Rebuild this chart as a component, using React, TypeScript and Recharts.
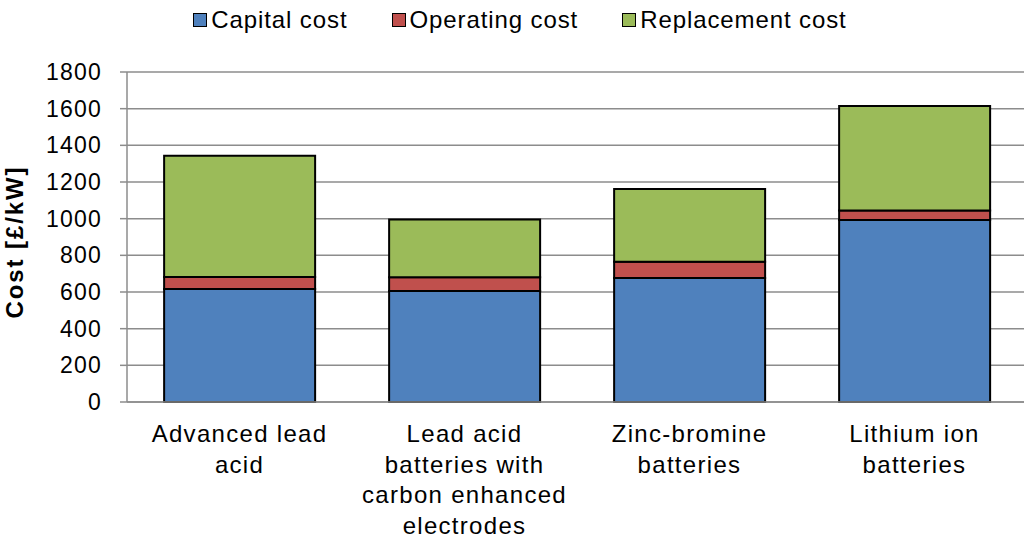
import { BarChart, Bar, XAxis, YAxis, CartesianGrid, Legend } from 'recharts';

const categories = [
  'Advanced lead acid',
  'Lead acid batteries with carbon enhanced electrodes',
  'Zinc-bromine batteries',
  'Lithium ion batteries',
];
const categoryLines = [
  ['Advanced lead', 'acid'],
  ['Lead acid', 'batteries with', 'carbon enhanced', 'electrodes'],
  ['Zinc-bromine', 'batteries'],
  ['Lithium ion', 'batteries'],
];
const capitalCost = [616, 605, 676, 993];
const operatingCost = [66, 75, 89, 51];
const replacementCost = [661, 316, 397, 571];
const yTicks = [0, 200, 400, 600, 800, 1000, 1200, 1400, 1600, 1800];
const categoryBounds = [0, 1, 2, 3, 4];

const series = [
  { key: 'capital', name: 'Capital cost', color: '#4F81BD' },
  { key: 'operating', name: 'Operating cost', color: '#C0504D' },
  { key: 'replacement', name: 'Replacement cost', color: '#9BBB59' },
];

const data = categories.map((name, i) => ({
  name,
  capital: capitalCost[i],
  operating: operatingCost[i],
  replacement: replacementCost[i],
}));

const FONT = '"Liberation Sans", Arial, sans-serif';
const GRID = '#8c8c8c';

function CategoryTick({ x, y, payload }: any) {
  const idx = categories.indexOf(payload.value);
  const lines = categoryLines[idx] || [payload.value];
  return (
    <g>
      {lines.map((line, i) => (
        <text
          key={i}
          x={x}
          y={y + 40 + i * 30.5}
          textAnchor="middle"
          fill="#000"
          fontFamily={FONT}
          fontSize={24}
          letterSpacing={1.3}
        >
          {line}
        </text>
      ))}
    </g>
  );
}

function LegendBox() {
  return (
    <div
      style={{
        height: 40,
        display: 'flex',
        justifyContent: 'center',
        alignItems: 'center',
        fontFamily: FONT,
        fontSize: 24,
        letterSpacing: 0.9,
        color: '#000',
        gap: 44,
      }}
    >
      {series.map((s) => (
        <div key={s.key} style={{ display: 'flex', alignItems: 'center' }}>
          <span
            style={{
              width: 12,
              height: 12,
              background: s.color,
              border: '1.5px solid #000',
              marginRight: 4,
              display: 'inline-block',
            }}
          />
          <span>{s.name}</span>
        </div>
      ))}
    </div>
  );
}

function YTitle({ viewBox }: any) {
  const cx = viewBox.x + 23;
  const cy = viewBox.y + viewBox.height / 2 + 5;
  return (
    <text
      x={cx}
      y={cy}
      transform={`rotate(-90, ${cx}, ${cy})`}
      textAnchor="middle"
      fontFamily={FONT}
      fontSize={24}
      fontWeight="bold"
      letterSpacing={1.9}
      fill="#000"
    >
      Cost [£/kW]
    </text>
  );
}

export default function App() {
  return (
    <div style={{ position: 'absolute', left: 0, top: 0, width: 1024, height: 538, overflow: 'hidden', background: '#fff' }}>
      <BarChart
        width={1040}
        height={538}
        data={data}
        margin={{ top: 32, right: 13, bottom: 0, left: 0 }}
        barCategoryGap="16.5%"
      >
        <Legend verticalAlign="top" align="center" content={<LegendBox />} wrapperStyle={{ top: 0, left: 0, width: 1040 }} />
        <CartesianGrid vertical={false} stroke={GRID} strokeWidth={1.5} xAxisId="cat" yAxisId="y" />
        <XAxis
          xAxisId="bounds"
          type="number"
          domain={[0, 4]}
          ticks={categoryBounds}
          allowDataOverflow
          height={0}
          axisLine={false}
          tickSize={7}
          tickLine={{ stroke: GRID, strokeWidth: 1.5 }}
          tick={() => <g />}
        />
        <XAxis
          xAxisId="cat"
          dataKey="name"
          height={136}
          axisLine={{ stroke: GRID, strokeWidth: 1.5 }}
          tickLine={false}
          tickSize={0}
          tickMargin={0}
          interval={0}
          tick={<CategoryTick />}
        />
        <YAxis
          yAxisId="y"
          width={127}
          domain={[0, 1800]}
          ticks={yTicks}
          interval={0}
          axisLine={{ stroke: GRID, strokeWidth: 1.5 }}
          tickLine={{ stroke: GRID, strokeWidth: 1.5 }}
          tickSize={7}
          tickMargin={18}
          tick={{ fill: '#000', fontFamily: FONT, fontSize: 23, letterSpacing: 1.2 }}
          label={<YTitle />}
        />
        {series.map((s) => (
          <Bar
            key={s.key}
            dataKey={s.key}
            name={s.name}
            stackId="a"
            xAxisId="cat"
            yAxisId="y"
            fill={s.color}
            stroke="#000"
            strokeWidth={2}
            isAnimationActive={false}
          />
        ))}
      </BarChart>
    </div>
  );
}
